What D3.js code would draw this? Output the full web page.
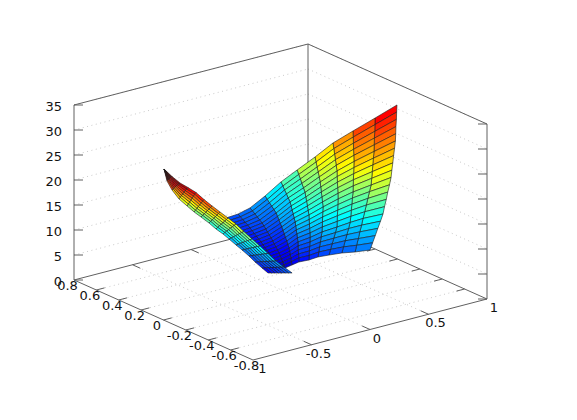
<!DOCTYPE html>
<html>
<head>
<meta charset="utf-8">
<script src="https://cdn.jsdelivr.net/npm/d3@7"></script>
<style>
html, body { margin: 0; background: #fff; }
text { font-family: "DejaVu Sans", sans-serif; font-size: 13px; fill: #111; }
</style>
</head>
<body>
<div id="chart"></div>
<script>
const xTicks = [-1, -0.5, 0, 0.5, 1];
const xTickLabels = ['-1', '-0.5', '0', '0.5', '1'];
const yTicks = [0.8, 0.6, 0.4, 0.2, 0, -0.2, -0.4, -0.6, -0.8];
const yTickLabels = ['0.8', '0.6', '0.4', '0.2', '0', '-0.2', '-0.4', '-0.6', '-0.8'];
const zTicks = [0, 5, 10, 15, 20, 25, 30, 35];

// wide wing of the surface, one inner list per mesh column (right to left)
const wideX = [
[1.008,.985,.962,.938,.915,.892,.863,.833,.804,.774,.745,.733,.720,.708,.695,.683,.646,.608,.571,.533,.496],
[.870,.843,.816,.788,.761,.734,.726,.718,.710,.702,.694,.672,.650,.629,.607,.585,.555,.524,.494,.463,.433],
[.763,.741,.719,.697,.675,.653,.642,.631,.619,.608,.597,.579,.562,.544,.527,.509,.486,.462,.439,.415,.392],
[.679,.662,.645,.629,.612,.595,.579,.563,.548,.532,.516,.498,.480,.461,.443,.425,.404,.383,.361,.340,.319],
[.603,.586,.569,.553,.536,.519,.500,.481,.461,.442,.423,.412,.401,.391,.380,.369,.355,.341,.327,.313,.299],
[.582,.557,.533,.508,.484,.459,.438,.418,.397,.377,.356,.349,.343,.336,.330,.323,.310,.296,.283,.269,.256],
[.540,.523,.505,.488,.470,.453,.436,.418,.401,.383,.366,.355,.343,.332,.320,.309,.291,.273,.256,.238,.220],
[.475,.467,.459,.451,.443,.435,.421,.408,.394,.381,.367,.352,.337,.323,.308,.293,.272,.252,.231,.210,.189],
[.334,.328,.321,.315,.308,.302,.292,.283,.273,.264,.254,.243,.232,.222,.211,.200,.187,.174,.162,.149,.136],
[.260,.256,.252,.248,.244,.240,.231,.222,.212,.203,.194,.188,.182,.175,.169,.163,.150,.138,.125,.113,.100],
[.189,.188,.188,.187,.187,.186,.180,.174,.169,.163,.157,.149,.141,.132,.124,.116,.107,.098,.088,.079,.070]
];
const wideY = [
[.013,-.008,-.030,-.051,-.073,-.094,-.117,-.140,-.163,-.186,-.209,-.208,-.206,-.205,-.203,-.202,-.218,-.234,-.250,-.266,-.282],
[.064,.038,.011,-.015,-.042,-.068,-.071,-.074,-.078,-.081,-.084,-.092,-.101,-.109,-.118,-.126,-.144,-.161,-.179,-.196,-.214],
[.150,.125,.100,.076,.051,.026,.016,.006,-.004,-.014,-.024,-.037,-.050,-.064,-.077,-.090,-.100,-.110,-.119,-.129,-.139],
[.241,.216,.191,.167,.142,.117,.099,.080,.062,.043,.025,.008,-.009,-.026,-.043,-.060,-.068,-.076,-.084,-.092,-.100],
[.322,.295,.268,.242,.215,.188,.163,.138,.112,.087,.062,.053,.043,.034,.024,.015,.008,.000,-.007,-.015,-.022],
[.460,.420,.380,.341,.301,.261,.232,.204,.175,.147,.118,.109,.100,.091,.082,.073,.061,.049,.038,.026,.014],
[.561,.526,.492,.457,.423,.388,.361,.334,.306,.279,.252,.235,.218,.201,.184,.167,.147,.127,.106,.086,.066],
[.635,.607,.579,.550,.522,.494,.467,.441,.414,.388,.361,.335,.309,.282,.256,.230,.203,.176,.149,.122,.095],
[.622,.594,.565,.537,.508,.480,.454,.428,.402,.376,.350,.324,.299,.273,.248,.222,.198,.174,.150,.126,.102],
[.651,.626,.600,.575,.549,.524,.495,.465,.436,.406,.377,.353,.329,.304,.280,.256,.228,.201,.173,.146,.118],
[.685,.659,.634,.608,.583,.557,.527,.498,.468,.439,.409,.381,.353,.325,.297,.269,.242,.214,.187,.159,.132]
];
const wideZ = [
[30.63,29.54,28.46,27.37,26.29,25.2,24.15,23.1,22.05,21.0,19.95,18.55,17.15,15.75,14.35,12.95,11.9,10.85,9.8,8.75,7.7],
[28.35,27.44,26.53,25.62,24.71,23.8,22.54,21.28,20.02,18.76,17.5,16.38,15.26,14.14,13.02,11.9,10.92,9.94,8.96,7.98,7],
[25.55,24.71,23.87,23.03,22.19,21.35,20.3,19.25,18.2,17.15,16.1,15.12,14.14,13.16,12.18,11.2,10.22,9.24,8.26,7.28,6.3],
[22.75,21.98,21.21,20.44,19.67,18.9,18.06,17.22,16.38,15.54,14.7,13.86,13.02,12.18,11.34,10.5,9.59,8.68,7.77,6.86,5.95],
[19.6,18.97,18.34,17.71,17.08,16.45,15.82,15.19,14.56,13.93,13.3,12.46,11.62,10.78,9.94,9.1,8.26,7.42,6.58,5.74,4.9],
[15.75,15.4,15.05,14.7,14.35,14,13.51,13.02,12.53,12.04,11.55,10.78,10.01,9.24,8.47,7.7,7,6.3,5.6,4.9,4.2],
[12.6,12.25,11.9,11.55,11.2,10.85,10.43,10.01,9.59,9.17,8.75,8.19,7.63,7.07,6.51,5.95,5.46,4.97,4.48,3.99,3.5],
[9.45,9.1,8.75,8.4,8.05,7.7,7.35,7,6.65,6.3,5.95,5.6,5.25,4.9,4.55,4.2,3.92,3.64,3.36,3.08,2.8],
[8.05,7.77,7.49,7.21,6.93,6.65,6.37,6.09,5.81,5.53,5.25,4.97,4.69,4.41,4.13,3.85,3.57,3.29,3.01,2.73,2.45],
[7,6.72,6.44,6.16,5.88,5.6,5.39,5.18,4.97,4.76,4.55,4.27,3.99,3.71,3.43,3.15,2.94,2.73,2.52,2.31,2.1],
[6.3,6.02,5.74,5.46,5.18,4.9,4.69,4.48,4.27,4.06,3.85,3.64,3.43,3.22,3.01,2.8,2.59,2.38,2.17,1.96,1.75]
];

// thin wing in front, one inner list per mesh row (tip to far end)
const thinX = [
[-1.287,-1.287,-1.287,-1.287,-1.287,-1.287,-1.287,-1.287],
[-1.271,-1.225,-1.180,-1.134,-1.088,-1.042,-.997,-.951],
[-1.222,-1.150,-1.077,-1.005,-.932,-.860,-.787,-.715],
[-1.149,-1.073,-.997,-.921,-.845,-.769,-.693,-.617],
[-1.081,-.999,-.918,-.836,-.755,-.673,-.592,-.510],
[-1.017,-.940,-.864,-.787,-.711,-.634,-.558,-.481],
[-.946,-.874,-.802,-.730,-.657,-.585,-.513,-.441],
[-.849,-.783,-.717,-.651,-.584,-.518,-.452,-.386],
[-.730,-.677,-.623,-.570,-.517,-.464,-.410,-.357],
[-.654,-.606,-.557,-.509,-.461,-.413,-.364,-.316],
[-.554,-.512,-.470,-.428,-.386,-.344,-.302,-.260],
[-.473,-.438,-.404,-.369,-.335,-.300,-.266,-.231],
[-.388,-.360,-.333,-.305,-.278,-.250,-.223,-.195],
[-.309,-.286,-.262,-.239,-.216,-.193,-.169,-.146],
[-.251,-.233,-.214,-.196,-.177,-.159,-.140,-.122],
[-.175,-.160,-.146,-.131,-.116,-.101,-.087,-.072],
[-.097,-.085,-.074,-.062,-.051,-.039,-.028,-.016]
];
const thinY = [
[-.305,-.305,-.305,-.305,-.305,-.305,-.305,-.305],
[-.359,-.305,-.251,-.197,-.142,-.088,-.034,.020],
[-.380,-.294,-.208,-.122,-.036,.050,.136,.222],
[-.374,-.283,-.192,-.101,-.010,.081,.171,.262],
[-.375,-.278,-.182,-.085,.011,.108,.204,.301],
[-.380,-.287,-.195,-.102,-.009,.084,.176,.269],
[-.378,-.288,-.199,-.109,-.020,.070,.159,.249],
[-.347,-.264,-.181,-.098,-.015,.069,.152,.235],
[-.295,-.224,-.153,-.082,-.010,.061,.132,.203],
[-.286,-.219,-.152,-.085,-.018,.049,.116,.183],
[-.252,-.189,-.126,-.063,-.001,.062,.125,.188],
[-.241,-.184,-.128,-.071,-.014,.043,.099,.156],
[-.223,-.171,-.120,-.068,-.016,.036,.087,.139],
[-.211,-.162,-.114,-.065,-.017,.032,.080,.129],
[-.222,-.176,-.130,-.084,-.039,.007,.053,.099],
[-.214,-.171,-.127,-.084,-.041,.003,.046,.089],
[-.205,-.162,-.119,-.076,-.034,.009,.052,.095]
];
const thinZ = [
[35,35,35,35,35,35,35,35],
[33.95,33,32.05,31.1,30.15,29.2,28.25,27.3],
[32.55,31.05,29.55,28.05,26.55,25.05,23.55,22.05],
[31.15,29.45,27.75,26.05,24.35,22.65,20.95,19.25],
[29.75,27.9,26.05,24.2,22.35,20.5,18.65,16.8],
[28,26.25,24.5,22.75,21,19.25,17.5,15.75],
[26.25,24.6,22.95,21.3,19.65,18,16.35,14.7],
[24.15,22.6,21.05,19.5,17.95,16.4,14.85,13.3],
[21.7,20.35,19,17.65,16.3,14.95,13.6,12.25],
[19.95,18.7,17.45,16.2,14.95,13.7,12.45,11.2],
[17.5,16.4,15.3,14.2,13.1,12,10.9,9.8],
[15.4,14.45,13.5,12.55,11.6,10.65,9.7,8.75],
[13.3,12.5,11.7,10.9,10.1,9.3,8.5,7.7],
[11.2,10.5,9.8,9.1,8.4,7.7,7,6.3],
[9.45,8.85,8.25,7.65,7.05,6.45,5.85,5.25],
[7.7,7.15,6.6,6.05,5.5,4.95,4.4,3.85],
[5.95,5.45,4.95,4.45,3.95,3.45,2.95,2.45]
];

const width = 577, height = 420;
const originX = 253, originY = 360; // corner x=-1, y=-0.8, z=0

// oblique view: each data axis gets one scale for screen x and one for screen y
const xAcross = d3.scaleLinear().domain([-1, 1]).range([0, 234]);
const xRise = d3.scaleLinear().domain([-1, 1]).range([0, -61]);
const yAcross = d3.scaleLinear().domain([-0.8, 0.8]).range([0, -179]);
const yRise = d3.scaleLinear().domain([-0.8, 0.8]).range([0, -80]);
const zRise = d3.scaleLinear().domain([0, 35]).range([0, -175]);

const project = (x, y, z) => [
    originX + xAcross(x) + yAcross(y),
    originY + xRise(x) + yRise(y) + zRise(z)
];

const jet = d3.scaleLinear()
.domain([0, 4.375, 13.125, 21.875, 30.625, 35])
.range(['#000080', '#0000ff', '#00ffff', '#ffff00', '#ff0000', '#800000']);

const svg = d3.select('#chart').append('svg').attr('width', width).attr('height', height);
const polyPath = d3.line();

function segment(g, a, b) {
    const pa = project(...a), pb = project(...b);
    g.append('line')
    .attr('x1', pa[0]).attr('y1', pa[1])
    .attr('x2', pb[0]).attr('y2', pb[1]);
}

const grid = svg.append('g').attr('stroke', '#bcbcbc').attr('stroke-width', 0.8).attr('stroke-dasharray', '1 3.5').attr('fill', 'none');
const box = svg.append('g').attr('stroke', '#606060').attr('stroke-width', 1).attr('fill', 'none');

zTicks.filter(z => z > 0).forEach(z => {
    segment(grid, [-1, 0.8, z], [1, 0.8, z]);
    segment(grid, [1, 0.8, z], [1, -0.8, z]);
});
xTicks.slice(1, -1).forEach(x => segment(grid, [x, -0.8, 0], [x, 0.8, 0]));
yTicks.slice(1, -1).forEach(y => segment(grid, [-1, y, 0], [1, y, 0]));

// frame
segment(box, [-1, 0.8, 0], [-1, -0.8, 0]);
segment(box, [-1, -0.8, 0], [1, -0.8, 0]);
segment(box, [-1, 0.8, 0], [1, 0.8, 0]);
segment(box, [1, 0.8, 0], [1, -0.8, 0]);
segment(box, [-1, 0.8, 0], [-1, 0.8, 35]);
segment(box, [1, -0.8, 0], [1, -0.8, 35]);
segment(box, [1, 0.8, 0], [1, 0.8, 35]);
segment(box, [-1, 0.8, 35], [1, 0.8, 35]);
segment(box, [1, 0.8, 35], [1, -0.8, 35]);

// ticks
const zTickPx = 9;
zTicks.forEach(z => {
    const l = project(-1, 0.8, z), r = project(1, -0.8, z);
    box.append('line').attr('x1', l[0]).attr('y1', l[1]).attr('x2', l[0] + zTickPx).attr('y2', l[1]);
    box.append('line').attr('x1', r[0]).attr('y1', r[1]).attr('x2', r[0] - zTickPx).attr('y2', r[1]);
});
xTicks.slice(1, -1).forEach(x => {
    segment(box, [x, -0.8, 0], [x, -0.73, 0]);
    segment(box, [x, 0.8, 0], [x, 0.73, 0]);
});
yTicks.slice(1, -1).forEach(y => {
    segment(box, [-1, y, 0], [-0.93, y, 0]);
    segment(box, [1, y, 0], [0.93, y, 0]);
});

function drawMesh(X, Y, Z) {
    const cells = [];
    d3.range(X.length - 1).forEach(i => {
        d3.range(X[0].length - 1).forEach(j => {
            const corners = [[i, j], [i, j + 1], [i + 1, j + 1], [i + 1, j]];
            cells.push({
                pts: corners.map(([a, b]) => project(X[a][b], Y[a][b], Z[a][b])),
                level: Z[i][j] // flat shading from the first corner
            });
        });
    });
    svg.append('g').selectAll('path').data(cells).join('path')
    .attr('d', d => polyPath(d.pts) + 'Z')
    .attr('fill', d => jet(d.level))
    .attr('stroke', '#1c1c1c')
    .attr('stroke-width', 0.6)
    .attr('stroke-linejoin', 'round');
}

drawMesh(wideX, wideY, wideZ);
drawMesh(thinX, thinY, thinZ);

// labels
const labels = svg.append('g');
zTicks.forEach(z => {
    const p = project(-1, 0.8, z);
    labels.append('text').attr('x', p[0] - 12).attr('y', p[1] + 6).attr('text-anchor', 'end').text(z);
});
yTicks.forEach((y, i) => {
    const p = project(-1, y, 0);
    labels.append('text').attr('x', p[0] - 6.5).attr('y', p[1] + 10).attr('text-anchor', 'middle').text(yTickLabels[i]);
});
xTicks.forEach((x, i) => {
    const p = project(x, -0.8, 0);
    labels.append('text').attr('x', p[0] + 7).attr('y', p[1] + 13).attr('text-anchor', 'middle').text(xTickLabels[i]);
});
</script>
</body>
</html>
